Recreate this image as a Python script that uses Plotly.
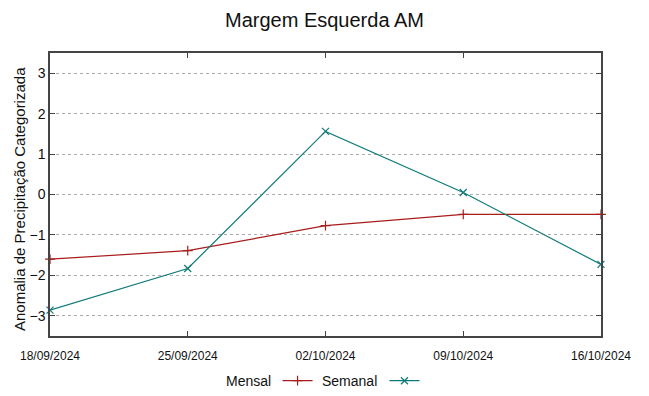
import plotly.graph_objects as go

dates = ["2024-09-18", "2024-09-25", "2024-10-02", "2024-10-09", "2024-10-16"]
tick_labels = ["18/09/2024", "25/09/2024", "02/10/2024", "09/10/2024", "16/10/2024"]
mensal = [-1.60, -1.39, -0.77, -0.49, -0.49]
semanal = [-2.86, -1.83, 1.56, 0.05, -1.73]
y_ticks = [-3, -2, -1, 0, 1, 2, 3]

RED = "#a81c1c"
TEAL = "#107a7a"
FONT = "Liberation Sans, Arial, sans-serif"
HIDDEN = "rgba(0,0,0,0)"

fig = go.Figure()
fig.add_trace(go.Scatter(
    x=dates, y=mensal, mode="lines+markers", name="Mensal", cliponaxis=False,
    line=dict(color=RED, width=1.2),
    marker=dict(symbol="cross-thin", size=7, line=dict(color=RED, width=1.2)),
    legend="legend",
))
fig.add_trace(go.Scatter(
    x=dates, y=semanal, mode="lines+markers", name="Semanal", cliponaxis=False,
    line=dict(color=TEAL, width=1.2),
    marker=dict(symbol="x-thin", size=7, line=dict(color=TEAL, width=1.2)),
    legend="legend2",
))

LEG_Y = -0.158
fig.update_layout(
    width=649, height=396,
    paper_bgcolor="white", plot_bgcolor="white",
    margin=dict(l=50, r=48, t=53, b=60, autoexpand=False),
    showlegend=True,
    title=dict(text="Margem Esquerda AM", x=0.5, xanchor="center", y=0.95, yanchor="middle",
               font=dict(family=FONT, size=20, color="#111")),
    font=dict(family=FONT, color="#111"),
    legend=dict(x=0.413, y=LEG_Y, xanchor="left", yanchor="middle", orientation="h",
                bgcolor=HIDDEN, font=dict(size=1, color=HIDDEN)),
    legend2=dict(x=0.607, y=LEG_Y, xanchor="left", yanchor="middle", orientation="h",
                 bgcolor=HIDDEN, font=dict(size=1, color=HIDDEN)),
    annotations=[
        dict(text="Mensal", xref="paper", yref="paper", x=0.405, y=LEG_Y,
             xanchor="right", yanchor="middle", showarrow=False,
             font=dict(family=FONT, size=14, color="#111")),
        dict(text="Semanal", xref="paper", yref="paper", x=0.597, y=LEG_Y,
             xanchor="right", yanchor="middle", showarrow=False,
             font=dict(family=FONT, size=14, color="#111")),
        dict(text="Anomalia de Precipitação Categorizada", xref="paper", yref="paper",
             x=-0.0563, y=0.484, xanchor="center", yanchor="middle", textangle=-90,
             showarrow=False, font=dict(family=FONT, size=15, color="#111")),
    ],
)

fig.update_xaxes(
    type="date", range=[dates[0], dates[-1]], automargin=False,
    tickvals=dates, ticktext=tick_labels, ticklabelstandoff=8,
    ticks="inside", ticklen=5, tickcolor="#444", mirror="allticks",
    showline=True, linecolor="#444", linewidth=1.5,
    showgrid=False, zeroline=False,
    tickfont=dict(family=FONT, size=12, color="#111"),
)
fig.update_yaxes(
    range=[-3.5, 3.5], tickvals=y_ticks, automargin=False,
    ticks="inside", ticklen=5, tickcolor="#444", mirror="allticks",
    showline=True, linecolor="#444", linewidth=1.5,
    showgrid=True, gridcolor="#aaaaaa", griddash="dot", gridwidth=1,
    zeroline=False,
    tickfont=dict(family=FONT, size=14, color="#111"),
)

fig.write_html("out.html", config={"displayModeBar": False},
               post_script="document.body.style.margin='0';")
